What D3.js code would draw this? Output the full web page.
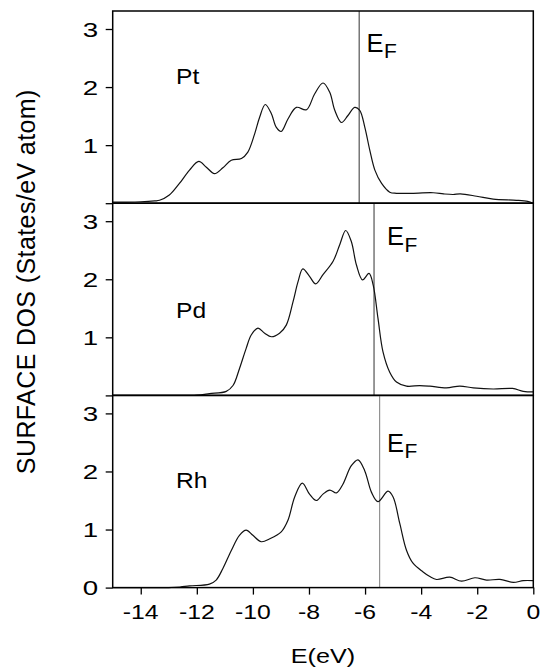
<!DOCTYPE html>
<html>
<head>
<meta charset="utf-8">
<script src="https://cdn.jsdelivr.net/npm/d3@7"></script>
<style>
  html, body { margin: 0; padding: 0; background: #fff; }
  svg { display: block; }
  text { font-family: "Liberation Sans", Arial, Helvetica, sans-serif; fill: #000; }
</style>
</head>
<body>
<svg id="chart" width="545" height="668"></svg>
<script>
// ---------------- data ----------------
const panelNames = ["Pt", "Pd", "Rh"];
const fermiLevels = [-6.21, -5.68, -5.48];

const ptEnergy = [-15, -14.5, -14, -13.5, -13.33, -12.98, -12.62, -12.26, -11.93, -11.66, -11.37, -11.07, -10.77, -10.41, -10.18, -9.94, -9.76, -9.56, -9.34, -9.17, -8.99, -8.75, -8.45, -8.09, -7.8, -7.5, -7.26, -7.08, -6.84, -6.61, -6.37, -6.19, -6.01, -5.83, -5.65, -5.41, -5.12, -4.88, -4.4, -3.57, -3.2, -2.86, -2.6, -2.02, -1.43, -0.6, -0.2, 0];
const ptDos    = [0.02, 0.02, 0.025, 0.04, 0.05, 0.14, 0.34, 0.57, 0.72, 0.62, 0.51, 0.61, 0.74, 0.77, 0.88, 1.19, 1.48, 1.70, 1.54, 1.31, 1.235, 1.45, 1.65, 1.61, 1.88, 2.07, 1.91, 1.60, 1.39, 1.51, 1.65, 1.60, 1.31, 0.91, 0.57, 0.34, 0.19, 0.17, 0.17, 0.18, 0.16, 0.15, 0.16, 0.12, 0.07, 0.05, 0.03, 0.0];

const pdEnergy = [-15, -13, -12.0, -11.55, -10.95, -10.71, -10.48, -10.24, -10.06, -9.82, -9.58, -9.34, -9.05, -8.81, -8.57, -8.39, -8.22, -7.98, -7.76, -7.5, -7.14, -6.9, -6.69, -6.49, -6.31, -6.09, -5.86, -5.71, -5.54, -5.36, -5.12, -4.88, -4.52, -4.05, -3.69, -3.1, -2.62, -2.14, -1.43, -0.74, -0.36, 0];
const pdDos    = [0, 0, 0.005, 0.03, 0.07, 0.17, 0.46, 0.81, 1.04, 1.16, 1.07, 1.01, 1.07, 1.21, 1.61, 1.96, 2.18, 2.05, 1.92, 2.08, 2.31, 2.60, 2.84, 2.65, 2.25, 1.99, 2.10, 1.90, 1.33, 0.75, 0.40, 0.23, 0.16, 0.17, 0.16, 0.13, 0.16, 0.13, 0.11, 0.12, 0.07, 0.06];

const rhEnergy = [-15, -13, -12.6, -12.26, -11.55, -11.31, -11.07, -10.77, -10.48, -10.24, -10.0, -9.70, -9.40, -8.99, -8.75, -8.51, -8.24, -7.98, -7.74, -7.5, -7.26, -7.02, -6.79, -6.49, -6.25, -6.01, -5.77, -5.54, -5.18, -5.0, -4.76, -4.52, -4.29, -3.93, -3.69, -3.45, -2.98, -2.56, -2.08, -1.67, -1.19, -0.71, -0.36, 0];
const rhDos    = [0, 0, 0.01, 0.03, 0.06, 0.13, 0.33, 0.64, 0.90, 0.99, 0.90, 0.79, 0.84, 0.96, 1.16, 1.56, 1.80, 1.61, 1.50, 1.61, 1.68, 1.63, 1.78, 2.10, 2.20, 2.01, 1.64, 1.48, 1.66, 1.56, 1.10, 0.64, 0.42, 0.27, 0.19, 0.14, 0.18, 0.11, 0.17, 0.13, 0.14, 0.09, 0.12, 0.12];

const xTicks = [-14, -12, -10, -8, -6, -4, -2, 0];
const yTicks = [0, 1, 2, 3];
const xTitle = "E(eV)";
const yTitle = "SURFACE DOS (States/eV atom)";

// ---------------- layout ----------------
const svg = d3.select("#chart");
const left = 112.7, right = 533.3;
const top0 = 11, panelH = 192.2;
const font = '"Liberation Sans", Arial, Helvetica, sans-serif';

const x = d3.scaleLinear().domain([-15, 0]).range([left, right]);

const series = [
  { name: panelNames[0], e: ptEnergy, d: ptDos, ef: fermiLevels[0], efDx: 7.4, efY: 2.61, efColor: "#444", labY: 2.05 },
  { name: panelNames[1], e: pdEnergy, d: pdDos, ef: fermiLevels[1], efDx: 13, efY: 2.59, efColor: "#444", labY: 1.33 },
  { name: panelNames[2], e: rhEnergy, d: rhDos, ef: fermiLevels[2], efDx: 7.3, efY: 2.34, efColor: "#888", labY: 1.71 }
];

function stretchText(g, px, py, str, size, sx, anchor) {
  return g.append("text")
    .attr("transform", `translate(${px},${py}) scale(${sx},1)`)
    .attr("text-anchor", anchor || "start")
    .style("font-size", size + "px")
    .text(str);
}

series.forEach((s, i) => {
  const pTop = top0 + i * panelH;
  const pBot = pTop + panelH;
  const y = d3.scaleLinear().domain([0, 3.31]).range([pBot, pTop]);
  const g = svg.append("g");

  // Fermi level line
  g.append("line")
    .attr("x1", x(s.ef)).attr("x2", x(s.ef))
    .attr("y1", pTop).attr("y2", pBot)
    .attr("stroke", s.efColor).attr("stroke-width", 1.1);

  // curve
  const pts = s.e.map((e, k) => [e, s.d[k]]);
  const line = d3.line()
    .x(p => x(p[0])).y(p => y(p[1]))
    .curve(d3.curveCatmullRom.alpha(0.5));
  g.append("path")
    .attr("d", line(pts))
    .attr("fill", "none")
    .attr("stroke", "#111")
    .attr("stroke-width", 1.2);

  // frame
  g.append("rect")
    .attr("x", left).attr("y", pTop)
    .attr("width", right - left).attr("height", panelH)
    .attr("fill", "none").attr("stroke", "#000").attr("stroke-width", 1.5);

  // y axis
  const yAxis = d3.axisLeft(y).tickValues(yTicks).tickSize(7)
    .tickFormat(d => (i === 2 || d !== 0) ? d3.format("d")(d) : "");
  const ya = g.append("g").attr("transform", `translate(${left},0)`).call(yAxis);
  ya.select(".domain").remove();
  ya.selectAll(".tick line").attr("stroke", "#000").attr("stroke-width", 1.3);
  ya.selectAll(".tick text").remove();
  yTicks.forEach(t => {
    if (i !== 2 && t === 0) return;
    stretchText(g, left - 14.5, y(t) + 7.5, String(t), 21, 1.32, "end");
  });

  // panel label
  stretchText(g, 176, y(s.labY), s.name, 22, 1.12, "start");

  // E_F label
  const ef = g.append("text")
    .attr("x", x(s.ef) + s.efDx).attr("y", y(s.efY))
    .style("font-size", "25.5px");
  ef.append("tspan").text("E");
  ef.append("tspan").attr("dy", 6.5).attr("dx", 0.5).style("font-size", "21px").text("F");

  // bottom x axis on last panel
  if (i === 2) {
    const xAxis = d3.axisBottom(x).tickValues(xTicks).tickSize(7).tickFormat("");
    const xa = g.append("g").attr("transform", `translate(0,${pBot})`).call(xAxis);
    xa.select(".domain").remove();
    xa.selectAll(".tick line").attr("stroke", "#000").attr("stroke-width", 1.3);
    xTicks.forEach(t => {
      stretchText(g, x(t), 618.5, String(t), 21, 1.18, "middle");
    });
  }
});

// axis titles
stretchText(svg, (left + right) / 2, 662.8, xTitle, 21, 1.2, "middle");
svg.append("text")
  .attr("transform", `translate(35,281.7) rotate(-90)`)
  .attr("text-anchor", "middle")
  .style("font-size", "25px")
  .style("letter-spacing", "0.4px")
  .text(yTitle);
</script>
</body>
</html>
